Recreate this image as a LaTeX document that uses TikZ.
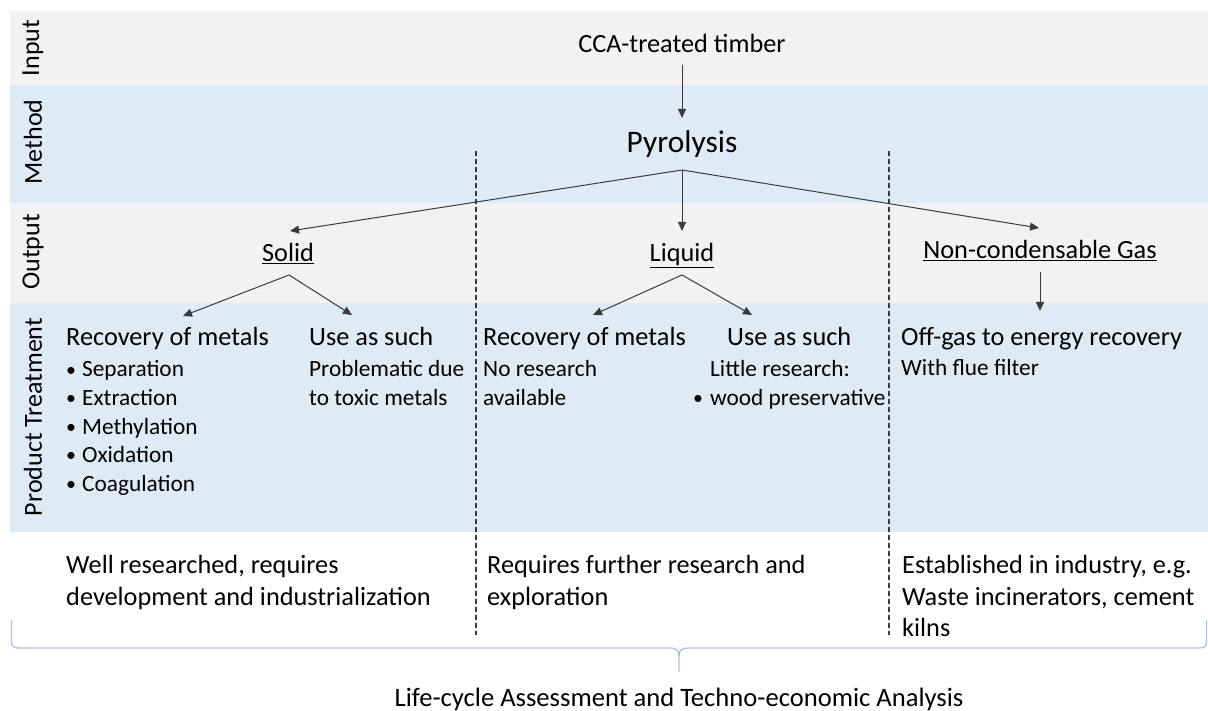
\documentclass[tikz,border=0pt]{standalone}
\usepackage{fontspec}
\setmainfont{Carlito}
\usetikzlibrary{arrows.meta,calc}

\definecolor{bandgrey}{HTML}{F2F2F2}
\definecolor{bandblue}{HTML}{DEEBF7}
\definecolor{linegrey}{HTML}{3A3A3A}
\definecolor{bracecol}{HTML}{A4C4E6}

\newcommand\bulletgap[1]{\makebox[#1][l]{\raisebox{0.6pt}{\scalebox{0.85}{•}}}}

\tikzset{
  head/.style={font=\fontsize{26.3}{30}\selectfont, inner sep=0pt},
  small/.style={font=\fontsize{23.3}{28}\selectfont, inner sep=0pt},
  title/.style={font=\fontsize{31.4}{36}\selectfont, inner sep=0pt},
  caption/.style={font=\fontsize{26.6}{30}\selectfont, inner sep=0pt},
  arr/.style={draw=linegrey, line width=1pt, -{Triangle[length=9pt,width=8pt]}},
  divider/.style={draw=linegrey, line width=1.6pt, dash pattern=on 5pt off 3pt},
  bandlabel/.style={font=\fontsize{26}{30}\selectfont, rotate=90, inner sep=0pt},
}

\begin{document}
\begin{tikzpicture}[x=1pt,y=-1pt]
\useasboundingbox (0,0) rectangle (1208,711);

% horizontal bands
\fill[bandgrey] (10,11)  rectangle (1208,85);
\fill[bandblue] (10,85)  rectangle (1208,203);
\fill[bandgrey] (10,203) rectangle (1208,303);
\fill[bandblue] (10,303) rectangle (1208,532);

% band labels
\node[bandlabel] (lin)  at (33,48)  {Input};
\node[bandlabel] (lmet) at (33,142) {Method};
\node[bandlabel] (lout) at (33,252) {Output};
\node[bandlabel] (lpt)  at (33,417) {Product Treatment};

% column dividers
\coordinate (d1top) at (476,151);
\coordinate (d1bot) at (476,635);
\coordinate (d2top) at (889,151);
\coordinate (d2bot) at (889,635);
\draw[divider] (d1top) -- (d1bot);
\draw[divider] (d2top) -- (d2bot);

% input and method
\node[head, anchor=base] (cca) at (682,53) {CCA-treated timber};
\node[title, anchor=base] (pyro) at (682,153) {Pyrolysis};
\draw[arr] ($(cca.base)+(0,12)$) -- ($(pyro.base)+(0,-35)$);

% outputs
\node[head, anchor=base] (solid)  at (288,262) {\underline{Solid}};
\node[head, anchor=base] (liquid) at (682,262) {\underline{Liquid}};
\node[head, anchor=base] (gas)    at (1040,259) {\underline{Non-condensable Gas}};
\draw[arr] ($(pyro.base)+(0,17)$) -- ($(solid.base)+(2,-31)$);
\draw[arr] ($(pyro.base)+(0,17)$) -- ($(liquid.base)+(0,-31)$);
\draw[arr] ($(pyro.base)+(0,17)$) -- ($(gas.base)+(-1,-31)$);

% solid treatment
\node[head, anchor=base west] (rec1) at (66,346)  {Recovery of metals};
\node[head, anchor=base west] (use1) at (309,346) {Use as such};
\draw[arr] ($(solid.base)+(1,13)$) -- ($(rec1.base west)+(117,-30)$);
\draw[arr] ($(solid.base)+(1,13)$) -- ($(use1.base west)+(43,-31)$);
\node[small, anchor=base west] (s1) at (66,377) {\bulletgap{16pt}Separation};
\node[small, anchor=base west] (s2) at (66,405) {\bulletgap{16pt}Extraction};
\node[small, anchor=base west] (s3) at (66,434) {\bulletgap{16pt}Methylation};
\node[small, anchor=base west] (s4) at (66,462) {\bulletgap{16pt}Oxidation};
\node[small, anchor=base west] (s5) at (66,491) {\bulletgap{16pt}Coagulation};
\node[small, anchor=base west] (u1a) at (309,377) {Problematic due};
\node[small, anchor=base west] (u1b) at (309,405) {to toxic metals};

% liquid treatment
\node[head, anchor=base west] (rec2) at (483,346) {Recovery of metals};
\node[head, anchor=base west] (use2) at (727,346) {Use as such};
\draw[arr] ($(liquid.base)+(0,13)$) -- ($(rec2.base west)+(110,-31)$);
\draw[arr] ($(liquid.base)+(0,13)$) -- ($(use2.base west)+(25,-31)$);
\node[small, anchor=base west] (r2a) at (483,377) {No research};
\node[small, anchor=base west] (r2b) at (483,405) {available};
\node[small, anchor=base west] (u2a) at (710,377) {Little research:};
\node[small, anchor=base west] (u2b) at (693,405) {\bulletgap{17pt}wood preservative};

% gas treatment
\node[head, anchor=base west] (off) at (901,346) {Off-gas to energy recovery};
\draw[arr] ($(gas.base)+(0,13)$) -- ($(off.base west)+(139,-35)$);
\node[small, anchor=base west] (flue) at (901,375) {With flue filter};

% assessment per column
\node[head, anchor=base west] (w1) at (66,573)  {Well researched, requires};
\node[head, anchor=base west] (w2) at (66,605)  {development and industrialization};
\node[head, anchor=base west] (q1) at (487,573) {Requires further research and};
\node[head, anchor=base west] (q2) at (487,605) {exploration};
\node[head, anchor=base west] (e1) at (902,573) {Established in industry, e.g.};
\node[head, anchor=base west] (e2) at (902,605) {Waste incinerators, cement};
\node[head, anchor=base west] (e3) at (902,636) {kilns};

% overall brace
\coordinate (bl) at (11.5,620);
\coordinate (br) at (1206.5,620);
\coordinate (btip) at (679,672);
\draw[bracecol, line width=1.3pt, line join=round]
  (bl) -- (11.5,641) .. controls (11.5,646) and (13,648) .. (19,648)
  -- (670,648) .. controls (676,648) and (679,650) .. (679,656) -- (btip);
\draw[bracecol, line width=1.3pt, line join=round]
  (br) -- (1206.5,641) .. controls (1206.5,646) and (1205,648) .. (1199,648)
  -- (688,648) .. controls (682,648) and (679,650) .. (679,656);
\node[caption, anchor=base] (lca) at (679,706) {Life-cycle Assessment and Techno-economic Analysis};
\end{tikzpicture}
\end{document}
